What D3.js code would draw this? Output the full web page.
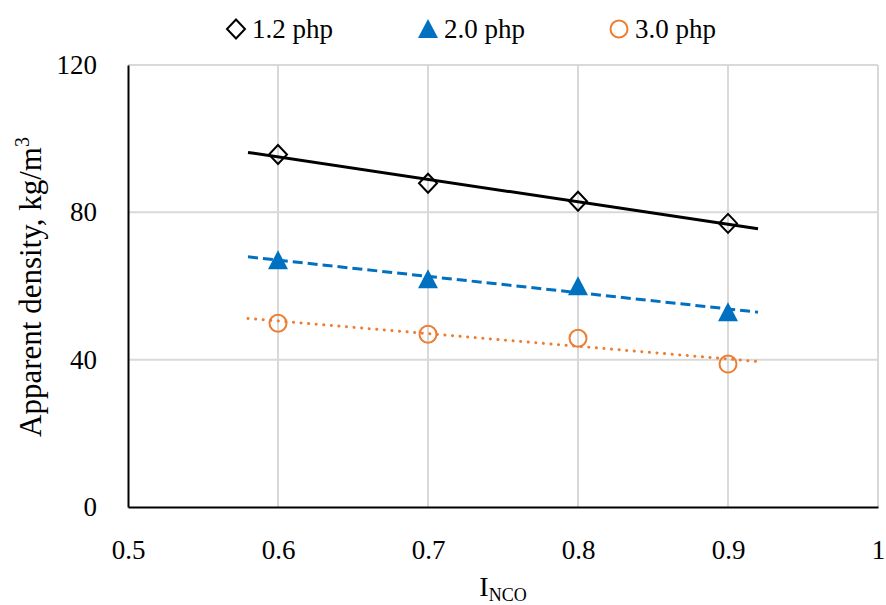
<!DOCTYPE html>
<html><head><meta charset="utf-8">
<script src="https://cdn.jsdelivr.net/npm/d3@7"></script>
<style>body{margin:0;background:#fff}svg{display:block}text{font-family:"Liberation Serif","Times New Roman",serif;fill:#000}</style>
</head><body><svg id="c" width="886" height="605"></svg>
<script>
const xValues = [0.6, 0.7, 0.8, 0.9];
const series12 = [95.7, 87.9, 83.0, 77.0];
const series20 = [67.0, 61.8, 59.9, 52.9];
const series30 = [49.9, 46.9, 45.8, 38.8];
const seriesNames = ["1.2 php", "2.0 php", "3.0 php"];
const xTicks = [0.5, 0.6, 0.7, 0.8, 0.9, 1];
const yTicks = [0, 40, 80, 120];

const svg = d3.select("#c");
const L = 128, R = 878, T = 65, B = 507;
const x = d3.scaleLinear().domain([0.5, 1]).range([L, R]);
const y = d3.scaleLinear().domain([0, 120]).range([B, T]);

// gridlines
const g = svg.append("g");
g.selectAll(".gy").data(yTicks.filter(d => d > 0)).join("line")
  .attr("x1", L).attr("x2", R).attr("y1", d => y(d)).attr("y2", d => y(d))
  .attr("stroke", "#d9d9d9").attr("stroke-width", 2);
g.selectAll(".gx").data(xTicks.filter(d => d > 0.5)).join("line")
  .attr("x1", d => x(d)).attr("x2", d => x(d)).attr("y1", T).attr("y2", B)
  .attr("stroke", "#d9d9d9").attr("stroke-width", 2);

// axes
const xAxis = svg.append("g").attr("transform", `translate(0,${B})`)
  .call(d3.axisBottom(x).tickValues(xTicks).tickFormat(d => d === 1 ? "1" : d3.format(".1f")(d)).tickSize(0).tickPadding(33));
const yAxis = svg.append("g").attr("transform", `translate(${L},0)`)
  .call(d3.axisLeft(y).tickValues(yTicks).tickSize(0).tickPadding(31));
[xAxis, yAxis].forEach(a => {
  a.select(".domain").attr("stroke", "#000").attr("stroke-width", 2);
  a.selectAll("text").style("font-family", '"Liberation Serif",serif').style("font-size", "27px").attr("fill", "#000");
});

// trendlines
function fit(xs, ys) {
  const mx = d3.mean(xs), my = d3.mean(ys);
  const s = d3.sum(xs, (v, i) => (v - mx) * (ys[i] - my)) / d3.sum(xs, v => (v - mx) ** 2);
  return v => my + s * (v - mx);
}
const trendX = [0.58, 0.92];
const styles = [
  {data: series12, color: "#000000", dash: null, cap: "butt"},
  {data: series20, color: "#0070C0", dash: "10,5", cap: "butt"},
  {data: series30, color: "#ED7D31", dash: "0.1,7.5", cap: "round"}
];
const line = d3.line().x(d => x(d[0])).y(d => y(d[1]));

// markers
function marker(sel, i, cx, cy) {
  if (i === 0) {
    sel.append("path").attr("d", `M${cx},${cy-9.5}L${cx+9},${cy}L${cx},${cy+9.5}L${cx-9},${cy}Z`)
      .attr("fill", "none").attr("stroke", "#000").attr("stroke-width", 2);
  } else if (i === 1) {
    sel.append("path").attr("d", `M${cx},${cy-10}L${cx+10},${cy+9}L${cx-10},${cy+9}Z`)
      .attr("fill", "#0070C0");
  } else {
    sel.append("circle").attr("cx", cx).attr("cy", cy).attr("r", 8.5)
      .attr("fill", "none").attr("stroke", "#ED7D31").attr("stroke-width", 2);
  }
}
styles.forEach((s, i) => {
  const gs = svg.append("g");
  xValues.forEach((xv, j) => marker(gs, i, x(xv), y(s.data[j])));
  const f = fit(xValues, s.data);
  svg.append("path").datum(trendX.map(v => [v, f(v)])).attr("d", line)
    .attr("fill", "none").attr("stroke", s.color).attr("stroke-width", 3)
    .attr("stroke-dasharray", s.dash).attr("stroke-linecap", s.cap);
});

// legend
const legX = [236, 428, 619];
seriesNames.forEach((n, i) => {
  const lg = svg.append("g");
  marker(lg, i, legX[i], 29);
  lg.append("text").attr("x", legX[i] + 16).attr("y", 38).style("font-size", "27px").text(n);
});

// axis titles
svg.append("text").attr("transform", "translate(41,287) rotate(-90)").attr("text-anchor", "middle")
  .style("font-size", "31px")
  .call(t => { t.append("tspan").text("Apparent density, kg/m"); t.append("tspan").attr("dy", -12).style("font-size", "20px").text("3"); });
svg.append("text").attr("x", 503).attr("y", 596).attr("text-anchor", "middle").style("font-size", "28px")
  .call(t => { t.append("tspan").text("I"); t.append("tspan").attr("dy", 5).style("font-size", "18px").text("NCO"); });
</script></body></html>
